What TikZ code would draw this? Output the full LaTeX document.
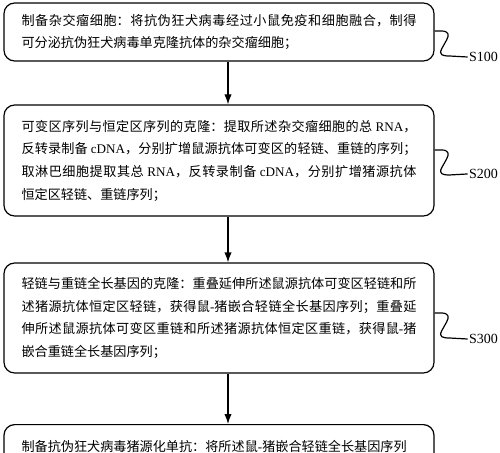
\documentclass[tikz,border=0pt]{standalone}
\usepackage{fontspec}
\setmainfont{Liberation Serif}
\newfontfamily\cjk{Noto Sans CJK SC}
\usetikzlibrary{arrows.meta}
\XeTeXlinebreaklocale "zh"
\XeTeXlinebreakskip=0pt plus 1pt
\newcommand\lat[1]{{\rmfamily #1}}
\newcommand\squig[2]{\draw[sq] (#1) -- ([shift={(7,0)}]#1) .. controls ([shift={(14,0)}]#1) and ([shift={(15,4)}]#1) .. ([shift={(12,9)}]#1) -- ([shift={(7,18)}]#1) .. controls ([shift={(4,24)}]#1) and ([shift={(8,25)}]#1) .. ([shift={(15,25)}]#1) -- (#2);}
\begin{document}
\begin{tikzpicture}[x=0.75pt,y=-0.75pt,
  boxshape/.style={draw, line width=0.9pt, rounded corners=8pt, minimum width=322.5pt},
  box/.style={boxshape, text width=296.25pt, align=justify, inner ysep=0pt,
    font=\cjk\fontsize{9.85}{17}\selectfont},
  txt/.style={text width=296.25pt, align=justify, inner sep=0pt,
    font=\cjk\fontsize{9.85}{17}\selectfont},
  arr/.style={line width=0.9pt, -{Latex[length=7.5pt,width=5.5pt]}},
  sq/.style={line width=0.9pt},
  lab/.style={font=\rmfamily\fontsize{10.5}{12}\selectfont, inner sep=1pt}]
\useasboundingbox (0,0) rectangle (500,453);
\clip (0,0) rectangle (500,453);

\node[box, minimum height=43.5pt] (b1) at (219,32) {制备杂交瘤细胞：将抗伪狂犬病毒经过小鼠免疫和细胞融合，制得\linebreak 可分泌抗伪狂犬病毒单克隆抗体的杂交瘤细胞；};

\node[box, minimum height=83.25pt] (b2) at (219,160.5) {可变区序列与恒定区序列的克隆：提取所述杂交瘤细胞的总 \lat{RNA}，\linebreak 反转录制备 \lat{cDNA}，分别扩增鼠源抗体可变区的轻链、重链的序列；\linebreak 取淋巴细胞提取其总 \lat{RNA}，反转录制备 \lat{cDNA}，分别扩增猪源抗体\linebreak 恒定区轻链、重链序列；};

\node[box, minimum height=82.5pt] (b3) at (219,318) {轻链与重链全长基因的克隆：重叠延伸所述鼠源抗体可变区轻链和所\linebreak 述猪源抗体恒定区轻链，获得鼠\lat{-}猪嵌合轻链全长基因序列；重叠延\linebreak 伸所述鼠源抗体可变区重链和所述猪源抗体恒定区重链，获得鼠\lat{-}猪\linebreak 嵌合重链全长基因序列；};

\node[boxshape, minimum height=80pt, anchor=north] (b4) at (219,424) {};
\node[txt] (t4) at (219,446) {\parfillskip=0pt\relax 制备抗伪狂犬病毒猪源化单抗：将所述鼠\lat{-}猪嵌合轻链全长基因序列};

\draw[arr] ([xshift=6.75pt]b1.south) -- ([xshift=6.75pt]b2.north);
\draw[arr] ([xshift=6.75pt]b2.south) -- ([xshift=6.75pt]b3.north);
\draw[arr] ([xshift=6.75pt]b3.south) -- ([xshift=6.75pt]b4.north);

\coordinate (c1) at ([yshift=0.75pt]b1.east);
\coordinate (c2) at ([yshift=7.9pt]b2.east);
\coordinate (c3) at ([yshift=3.75pt]b3.east);
\node[lab, anchor=west] (l1) at ([shift={(33,26)}]c1) {S100};
\node[lab, anchor=west] (l2) at ([shift={(33,24)}]c2) {S200};
\node[lab, anchor=west] (l3) at ([shift={(33,26)}]c3) {S300};
\squig{c1}{l1.west}
\squig{c2}{l2.west}
\squig{c3}{l3.west}
\end{tikzpicture}
\end{document}
